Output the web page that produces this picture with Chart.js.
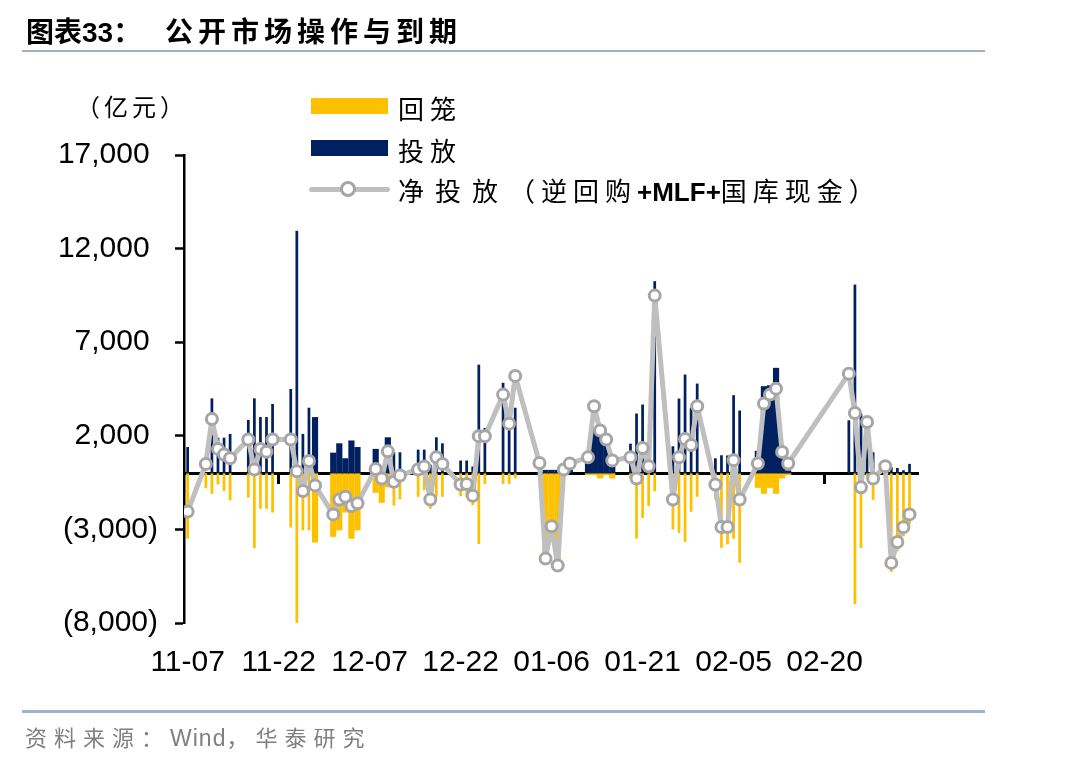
<!DOCTYPE html>
<html lang="zh-CN">
<head>
<meta charset="utf-8">
<title>公开市场操作与到期</title>
<script src="https://cdn.jsdelivr.net/npm/chart.js@4.4.1/dist/chart.umd.min.js"></script>
<style>
  html, body { margin: 0; padding: 0; background: #fff; }
  body { width: 1072px; height: 764px; position: relative; overflow: hidden; font-family: "Noto Sans CJK SC", sans-serif; color: #000; }
  #wrap { position: absolute; left: 0; top: 0; width: 1072px; height: 764px; }
  .abs { position: absolute; white-space: nowrap; line-height: 1; }
  .title { font-size: 28px; font-weight: 700; }
  .title .num { font-family: "Liberation Sans", Arial, sans-serif; font-weight: 700; }
  .rule { position: absolute; left: 22px; width: 963px; height: 2.5px; background: #9db3cb; }
  .unit { font-size: 24px; letter-spacing: 4px; }
  .lg { font-size: 26px; letter-spacing: 6px; }
  .lg .latin { font-family: "Liberation Sans", Arial, sans-serif; font-weight: 700; font-size: 26px; letter-spacing: 0; }
  .sw { position: absolute; left: 311px; width: 77px; height: 16px; }
  .lgline { position: absolute; left: 309px; top: 187px; width: 81px; height: 5px; border-radius: 3px; background: #bfbfbf; }
  .lgdot { position: absolute; left: 340px; top: 181px; width: 10px; height: 10px; border-radius: 50%; background: #fff; border: 3px solid #a6a6a6; }
  .source { font-size: 22px; letter-spacing: 7px; color: #808080; }
  .source .latin { font-family: "Liberation Sans", Arial, sans-serif; font-size: 23px; letter-spacing: 1px; }
</style>
</head>
<body>
<div id="wrap"><canvas id="omoChart"></canvas></div>

<div class="abs title" style="left:26px; top:16px;">图表<span class="num">33</span>：</div>
<div class="abs title" style="left:165px; top:16px; letter-spacing:5px;">公开市场操作与到期</div>
<div class="rule" style="top:49.5px;"></div>

<div class="abs unit" style="left:76px; top:94px;">（亿元）</div>

<div class="sw" style="top:98px; background:#ffc000;"></div>
<div class="abs lg" style="left:398px; top:95px;">回笼</div>
<div class="sw" style="top:140px; background:#002060;"></div>
<div class="abs lg" style="left:398px; top:137px;">投放</div>
<div class="lgline"></div>
<div class="lgdot"></div>
<div class="abs lg" style="left:398px; top:177px;"><span style="letter-spacing:11px;">净投放</span>（逆回购<span class="latin">+MLF+</span>国库现金）</div>

<div class="rule" style="top:710px;"></div>
<div class="abs source" style="left:25px; top:725px;">资料来源：<span class="latin">Wind</span>，华泰研究</div>

<script>
// 交易日（2025-11 至 2026-03）
const dates = [
  '11-07','11-10','11-11','11-12','11-13','11-14','11-17','11-18','11-19','11-20',
  '11-21','11-24','11-25','11-26','11-27','11-28','12-01','12-02','12-03','12-04',
  '12-05','12-08','12-09','12-10','12-11','12-12','12-15','12-16','12-17','12-18',
  '12-19','12-22','12-23','12-24','12-25','12-26','12-29','12-30','12-31','01-04',
  '01-05','01-06','01-07','01-08','01-09','01-12','01-13','01-14','01-15','01-16',
  '01-19','01-20','01-21','01-22','01-23','01-26','01-27','01-28','01-29','01-30',
  '02-02','02-03','02-04','02-05','02-06','02-09','02-10','02-11','02-12','02-13',
  '02-14','02-24','02-25','02-26','02-27','02-28','03-02','03-03','03-04','03-05',
  '03-06'
];

// 投放（亿元）
const injection = [
  1400, null, 4000, 1900, 1900, 2100, 2850, 4000, 3000, 3000,
  3700, 4500, 12950, 2100, 3500, 3000, 1100, 1600, 800, 1750,
  1400, 1300, null, 1920, 1120, 1120, 1260, 1260, 460, 1920,
  1600, 680, 680, 360, 5800, 2420, 4830, 3200, 3500, 500,
  180, 180, 180, 180, 180, 900, 2400, 2300, 1800, 800,
  1580, 3190, 3670, 400, 10260, 1440, 3990, 5270, 3500, 4790,
  800, 960, 950, 4170, 3350, 1200, 4650, 4700, 5630, 1300,
  150, 2830, 10080, 3190, 2900, 1120, 450, 320, 280, 160,
  500
];

// 回笼（亿元）
const maturity = [
  -3500, -800, -1100, -600, -950, -1450, -1300, -4000, -1900, -1900,
  -2100, -2900, -8000, -3050, -3050, -3700, -3400, -3050, -2100, -3500,
  -3050, -1050, -1580, -750, -1730, -1400, -1260, -900, -1900, -1260,
  -1260, -1230, -1250, -1700, -3780, -570, -570, -570, -270, null,
  -4700, -3000, -5100, null, null, -100, -100, -280, -100, -280,
  -280, -3490, -2390, -1760, -960, -3000, -3190, -3670, -2060, -1260,
  -1400, -3990, -3800, -3490, -4790, -780, -1100, -780, -1100, -280,
  -100, null, -7000, -3990, -150, -1420, -100, -5270, -4170, -3370,
  -2700
];

// 净投放（逆回购+MLF+国库现金，亿元）
const netInjection = [
  -2050, 500, 2900, 1300, 1000, 800, 1800, 200, 1300, 1150,
  1800, 1800, 100, -950, 650, -650, -2200, -1400, -1250, -1750,
  -1600, 230, -280, 1170, -460, -120, 200, 360, -1400, 850,
  500, -600, -570, -1200, 1980, 1980, 4200, 2650, 5200, 550,
  -4560, -2830, -4930, 200, 520, 850, 3580, 2280, 1800, 680,
  850, -280, 1350, 370, 9490, -1400, 850, 1830, 1510, 3580,
  -600, -2870, -2870, 700, -1400, 520, 3720, 4200, 4520, 1140,
  520, 5320, 3220, -750, 2740, -280, 370, -4790, -3670, -2880,
  -2200
];

// 原图中柱子画得较宽的日期
const wideDates = [
  '11-28','12-01','12-02','12-03','12-04','12-05','12-08','12-09','12-10',
  '01-05','01-06','01-07','01-08','01-09','01-12','01-13','01-14','01-15','01-16',
  '02-09','02-10','02-11','02-12','02-13','02-14'
];

const tickLabels = ['11-07','11-22','12-07','12-22','01-06','01-21','02-05','02-20'];
const axisMarks = ['11-22','01-06','02-20'];
const yTicks = [-8000, -3000, 2000, 7000, 12000, 17000];

// 距 2025-11-07 的天数
function dayOffset(md) {
  const [m, d] = md.split('-').map(Number);
  const year = m >= 11 ? 2025 : 2026;
  return (Date.UTC(year, m - 1, d) - Date.UTC(2025, 10, 7)) / 86400000;
}

function points(values, keep) {
  const out = [];
  dates.forEach((md, i) => {
    if (values[i] === null || !keep(md)) return;
    out.push({ x: dayOffset(md), y: values[i] });
  });
  return out;
}
const isWide = md => wideDates.includes(md);
const isThin = md => !wideDates.includes(md);

const xMin = -0.6, xMax = 120.4;
const numFont = { family: 'Liberation Sans, Arial, sans-serif', size: 30 };

const barBase = { type: 'bar', grouped: false, categoryPercentage: 1, borderWidth: 0, order: 2 };

new Chart(document.getElementById('omoChart'), {
  type: 'bar',
  data: {
    datasets: [
      { ...barBase, label: '投放', data: points(injection, isThin), backgroundColor: '#002060', barPercentage: 0.45 },
      { ...barBase, label: '投放', data: points(injection, isWide), backgroundColor: '#002060', barPercentage: 1.02 },
      { ...barBase, label: '回笼', data: points(maturity, isThin), backgroundColor: '#ffc000', barPercentage: 0.45 },
      { ...barBase, label: '回笼', data: points(maturity, isWide), backgroundColor: '#ffc000', barPercentage: 1.02 },
      {
        type: 'line',
        label: '净投放（逆回购+MLF+国库现金）',
        data: points(netInjection, () => true),
        borderColor: '#bfbfbf',
        borderWidth: 5,
        borderJoinStyle: 'round',
        borderCapStyle: 'round',
        tension: 0,
        pointRadius: 5.5,
        pointBorderWidth: 3,
        pointBackgroundColor: '#ffffff',
        pointBorderColor: '#a6a6a6',
        order: 0
      }
    ]
  },
  options: {
    responsive: true,
    maintainAspectRatio: false,
    animation: false,
    layout: { padding: { top: 155, right: 154, bottom: 0, left: 0 } },
    plugins: { legend: { display: false }, tooltip: { enabled: false } },
    scales: {
      x: {
        type: 'linear',
        position: 'bottom',
        offset: false,
        min: xMin,
        max: xMax,
        grid: { display: false, offset: false },
        border: { display: false },
        ticks: {
          autoSkip: false,
          maxRotation: 0,
          padding: 14,
          color: '#000',
          font: numFont,
          callback: (v, i) => tickLabels[i]
        },
        afterBuildTicks: axis => { axis.ticks = tickLabels.map(t => ({ value: dayOffset(t) })); },
        afterFit: axis => { axis.height = 141; }
      },
      zeroAxis: {
        type: 'linear',
        axis: 'x',
        position: { y: 0 },
        offset: false,
        min: xMin,
        max: xMax,
        z: 1,
        grid: { drawOnChartArea: false, offset: false, drawTicks: true, tickLength: 9, tickColor: '#000', tickWidth: 3 },
        border: { display: true, color: '#000', width: 3 },
        ticks: { display: false },
        afterBuildTicks: axis => { axis.ticks = axisMarks.map(t => ({ value: dayOffset(t) })); }
      },
      y: {
        min: -8000,
        max: 17000,
        grid: { drawOnChartArea: false, drawTicks: true, tickLength: 9, tickColor: '#000', tickWidth: 2.5 },
        border: { display: true, color: '#000', width: 2.5 },
        ticks: {
          padding: 17,
          color: '#000',
          font: numFont,
          callback: v => v < 0 ? '(' + Math.abs(v).toLocaleString('en-US') + ')' : v.toLocaleString('en-US') + ' '
        },
        afterBuildTicks: axis => { axis.ticks = yTicks.map(v => ({ value: v })); },
        afterFit: axis => { axis.width = 184; }
      }
    }
  }
});
</script>
</body>
</html>
